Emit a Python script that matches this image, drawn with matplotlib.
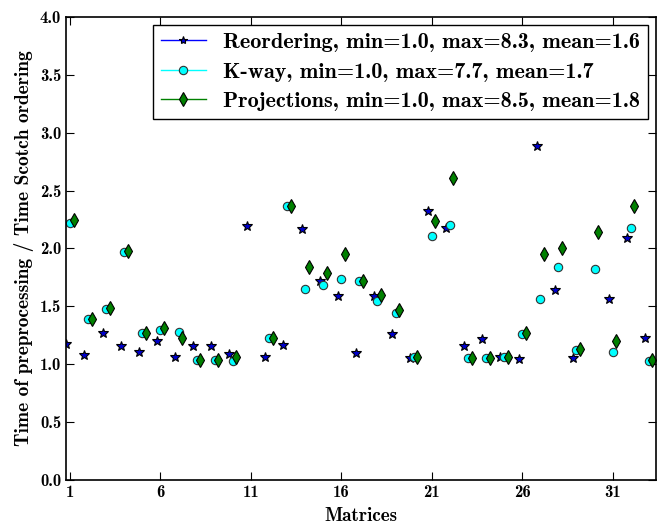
import matplotlib
matplotlib.use("Agg")
import matplotlib.pyplot as plt
from matplotlib.lines import Line2D
import numpy as np

plt.rcParams['font.family'] = ['cmb10', 'DejaVu Serif']
plt.rcParams['axes.formatter.use_mathtext'] = False

matrices = np.arange(1, 34)
reordering = [1.175, 1.08, 1.27, 1.155, 1.105, 1.20, 1.065, 1.16, 1.16, 1.09,
              2.19, 1.06, 1.165, 2.17, 1.72, 1.59, 1.10, 1.59, 1.26, 1.05,
              2.32, 2.18, 1.16, 1.22, 1.06, 1.045, 2.885, 1.64, 1.05, 8.3,
              1.56, 2.09, 1.23]
kway = [2.22, 1.39, 1.48, 1.97, 1.27, 1.30, 1.28, 1.035, 1.035, 1.025,
        7.7, 1.23, 2.37, 1.65, 1.685, 1.74, 1.715, 1.55, 1.44, 1.06,
        2.11, 2.20, 1.05, 1.05, 1.06, 1.26, 1.565, 1.84, 1.12, 1.82,
        1.11, 2.18, 1.025]
projections = [2.25, 1.39, 1.49, 1.98, 1.27, 1.31, 1.23, 1.04, 1.04, 1.06,
               8.5, 1.23, 2.365, 1.84, 1.79, 1.95, 1.715, 1.595, 1.47, 1.06,
               2.24, 2.61, 1.055, 1.055, 1.06, 1.27, 1.95, 2.00, 1.13, 2.14,
               1.20, 2.37, 1.04]
labels = ["Reordering, min=1.0, max=8.3, mean=1.6",
          "K-way, min=1.0, max=7.7, mean=1.7",
          "Projections, min=1.0, max=8.5, mean=1.8"]
xticks = [1, 6, 11, 16, 21, 26, 31]

fig = plt.figure(figsize=(6.58, 5.25), dpi=100)
ax = fig.add_axes([0.1003, 0.0857, 0.8967, 0.882])

ax.plot(matrices - 0.2, reordering, ls='', marker='*', ms=7, mfc='#0000cc', mec='black', mew=0.8)
ax.plot(matrices, kway, ls='', marker='o', ms=6, mfc='cyan', mec='#333333', mew=0.8)
ax.plot(matrices + 0.2, projections, ls='', marker='d', ms=7.5, mfc='green', mec='black', mew=0.8)

handles = [
    Line2D([], [], color='blue', lw=1, marker='*', ms=6, mfc='#0000cc', mec='black', mew=0.8),
    Line2D([], [], color='cyan', lw=1, marker='o', ms=6, mfc='cyan', mec='#333333', mew=0.8),
    Line2D([], [], color='green', lw=1, marker='d', ms=7, mfc='green', mec='black', mew=0.8),
]
leg = ax.legend(handles, labels, loc='upper right', fontsize=16, numpoints=1,
                handlelength=2.0, fancybox=False, framealpha=1, edgecolor='black',
                borderaxespad=0.35, labelspacing=0.45, borderpad=0.35, handletextpad=0.8)
leg.get_frame().set_linewidth(1.0)

ax.set_xlim(0.78, 33.4)
ax.set_ylim(0, 4.0)
ax.set_xticks(xticks)
ax.set_xticklabels([str(t) for t in xticks])
ax.set_yticks(np.arange(0, 4.01, 0.5))
ax.set_yticklabels(["%.1f" % v for v in np.arange(0, 4.01, 0.5)])
ax.tick_params(direction='in', top=True, right=True, length=6, labelsize=12)
ax.set_xlabel("Matrices", fontsize=13.8, labelpad=5)
ax.set_ylabel("Time of preprocessing / Time Scotch ordering", fontsize=14, labelpad=4)
for s in ax.spines.values():
    s.set_linewidth(1.2)

fig.savefig("out.png", dpi=100)
